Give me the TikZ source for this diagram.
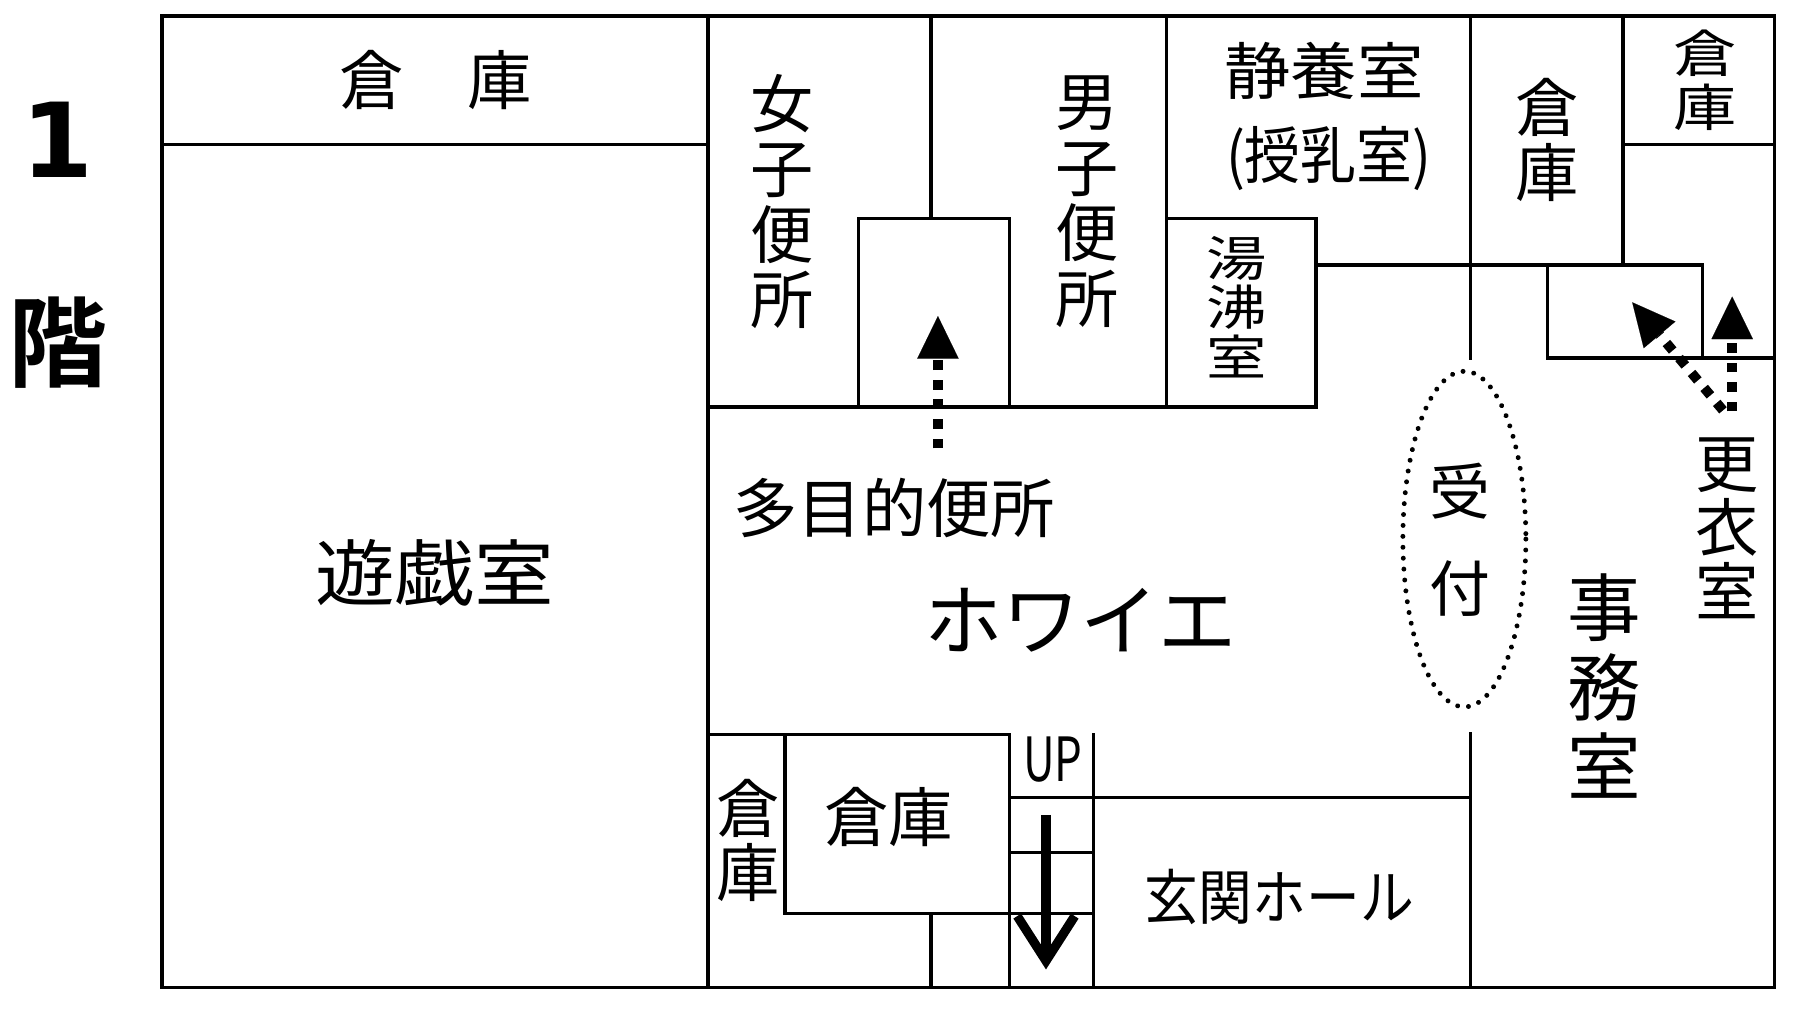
\documentclass[tikz,border=0pt]{standalone}
\usepackage{graphicx}
\usepackage{fontspec}
\newfontfamily\jp{Noto Sans CJK JP}[BoldFont={Noto Sans CJK JP Bold}]
\newfontfamily\dvs{DejaVu Sans}
\usetikzlibrary{arrows.meta}
\newcommand{\fsz}[2]{\fontsize{#1}{#2}\selectfont}
\newcommand{\sxx}[2]{\scalebox{#1}[1]{#2}}
\begin{document}
\begin{tikzpicture}[x=1pt,y=-1pt,
  wall/.style={line width=2.8pt, line cap=rect},
  lbl/.style={inner sep=0pt, align=center},
  darrow/.style={line width=8.5pt, dash pattern=on 8.5pt off 8.5pt,
     -{Triangle[length=37pt,width=36pt,line width=0.1pt]}},
  rcpt/.style={line width=4.3pt, line cap=round, dash pattern=on 0.01pt off 9.5pt}]
\fill[white] (0,0) rectangle (1566,882);
\useasboundingbox (0,0) rectangle (1566,882);

% outer walls
\draw[wall] (141,14) rectangle (1544,859);
\draw[wall] (141,126) -- (616,126);
\draw[wall] (616,14) -- (616,859);
% toilets
\draw[wall] (810,14) -- (810,190);
\draw[wall] (747,354) -- (747,190) -- (878,190) -- (878,354);
\draw[wall] (1015,14) -- (1015,354);
\draw[wall] (616,354) -- (1145,354);
\draw[wall] (1015,190) -- (1145,190) -- (1145,354);
% right upper
\draw[wall] (1145,230.5) -- (1481,230.5);
\draw[wall] (1279,14) -- (1279,311.5);
\draw[wall] (1412,14) -- (1412,230.5);
\draw[wall] (1412,126) -- (1544,126);
\draw[wall] (1346,230.5) -- (1346,311.5) -- (1544,311.5);
\draw[wall] (1481,230.5) -- (1481,311.5);
\draw[wall] (1279,638) -- (1279,859);
% lower part
\draw[wall] (616,639) -- (878,639);
\draw[wall] (683,639) -- (683,794.5) -- (878,794.5);
\draw[wall] (810,794.5) -- (810,859);
\draw[wall] (878,639) -- (878,859);
\draw[wall] (951,639) -- (951,859);
\draw[wall] (878,693.6) -- (1279,693.6);
\draw[wall] (878,742) -- (951,742);
\draw[wall] (878,794.5) -- (951,794.5);

% stair arrow
\draw[line width=8pt] (910,709) -- (910,836);
\draw[line width=8pt, line join=miter] (885,797) -- (910,836) -- (935,797);

% reception ellipse
\draw[rcpt] (1274,469) ellipse [x radius=53.5, y radius=146];

% dotted arrows
\coordinate (mpA) at (816,390);
\coordinate (mpB) at (816,275);
\draw[darrow] (mpA) -- (mpB);
\coordinate (kvA) at (1507,358);
\coordinate (kvB) at (1507,258);
\draw[darrow] (kvA) -- (kvB);
\coordinate (kdA) at (1499,357);
\coordinate (kdB) at (1420,263);
\draw[darrow] (kdA) -- (kdB);

% labels
\node[lbl, font=\dvs\bfseries\fsz{90}{90}] (one) at (50,122) {1};
\node[lbl, font=\jp\bfseries\fsz{86}{86}] (kai) at (50,298) {階};
\node[lbl, font=\jp\fsz{56}{60}] (kuraTop) at (379,70) {倉\hspace{1em}庫};
\node[lbl, font=\jp\fsz{63}{66}] (yugi) at (378,498) {\sxx{1.1}{遊戯室}};
\node[lbl, font=\jp\fsz{55}{57}] (jo) at (680,175.5) {女\\子\\便\\所};
\node[lbl, font=\jp\fsz{55}{57}] (dan) at (946,175.5) {男\\子\\便\\所};
\node[lbl, font=\jp\fsz{42}{43}] (yu) at (1076,267) {\sxx{1.25}{湯}\\\sxx{1.25}{沸}\\\sxx{1.25}{室}};
\node[lbl, font=\jp\fsz{54}{58}] (seiyo) at (1152,62) {\sxx{1.07}{静養室}};
\node[lbl, font=\jp\fsz{54}{58}] (junyu) at (1156,138) {\sxx{0.9}{(授乳室)}};
\node[lbl, font=\jp\fsz{55}{56.5}] (kuraMid) at (1346,122) {倉\\庫};
\node[lbl, font=\jp\fsz{44}{46.5}] (kuraTR) at (1483,70) {\sxx{1.25}{倉}\\\sxx{1.25}{庫}};
\node[lbl, font=\jp\fsz{56}{60}] (tamoku) at (778,442) {多目的便所};
\node[lbl, font=\jp\fsz{68}{72}] (foyer) at (940,540) {ホワイエ};
\node[lbl, font=\jp\fsz{53}{85}] (uke) at (1270,469.5) {受\\付};
\node[lbl, font=\jp\fsz{64}{69}] (jimu) at (1396,597) {事\\務\\室};
\node[lbl, font=\jp\fsz{55}{55.5}] (koui) at (1502.5,459.5) {更\\衣\\室};
\node[lbl, font=\jp\fsz{55}{56}] (kuraSm) at (651,731) {倉\\庫};
\node[lbl, font=\jp\fsz{56}{60}] (kuraBox) at (773,711) {倉庫};
\node[lbl, font=\jp\fsz{53}{56}] (up) at (916,661) {\sxx{0.72}{UP}};
\node[lbl, font=\jp\fsz{52}{56}] (genkan) at (1113,780) {\sxx{0.9}{玄関ホール}};
\end{tikzpicture}
\end{document}
